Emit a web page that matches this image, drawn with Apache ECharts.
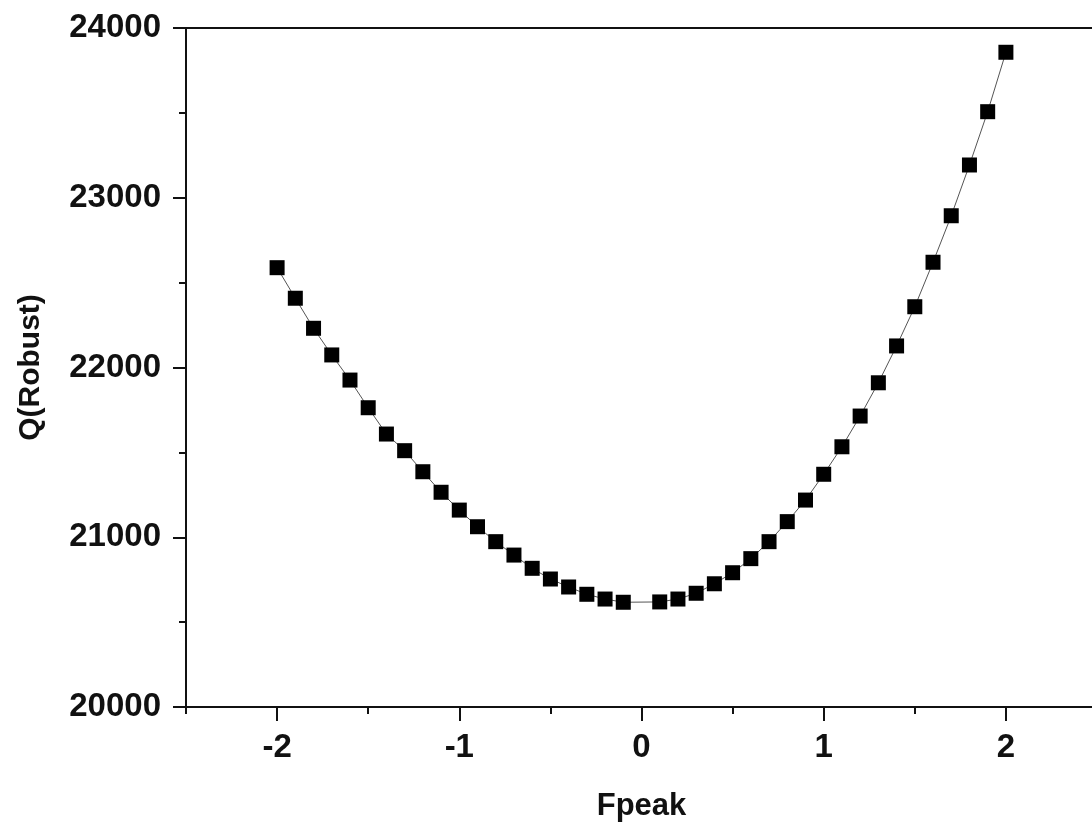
<!DOCTYPE html>
<html>
<head>
<meta charset="utf-8">
<script src="https://cdn.jsdelivr.net/npm/echarts@6/dist/echarts.min.js"></script>
<style>
  html, body { margin: 0; padding: 0; background: #fff; }
  #chart { width: 1092px; height: 827px; }
</style>
</head>
<body>
<div id="chart"></div>
<script>
// Fpeak values (no point at 0)
const fpeak = [
  -2.0, -1.9, -1.8, -1.7, -1.6, -1.5, -1.4, -1.3, -1.2, -1.1,
  -1.0, -0.9, -0.8, -0.7, -0.6, -0.5, -0.4, -0.3, -0.2, -0.1,
  0.1, 0.2, 0.3, 0.4, 0.5, 0.6, 0.7, 0.8, 0.9, 1.0,
  1.1, 1.2, 1.3, 1.4, 1.5, 1.6, 1.7, 1.8, 1.9, 2.0
]
const qRobust = [
  22588, 22408, 22231, 22074, 21926, 21763, 21608, 21510, 21386, 21265,
  21160, 21062, 20974, 20895, 20817, 20754, 20707, 20664, 20636, 20617,
  20619, 20636, 20670, 20726, 20791, 20874, 20974, 21092, 21219, 21371,
  21533, 21714, 21910, 22127, 22358, 22620, 22894, 23193, 23507, 23857
]
const xMajorTicks = [-2, -1, 0, 1, 2]

const chart = echarts.init(document.getElementById('chart'))
const font = "'Liberation Sans', Arial, sans-serif"

const option = {
  backgroundColor: '#fff',
  animation: false,
  grid: {
    left: 186,
    top: 28,
    width: 911,
    height: 679,
    outerBoundsMode: 'none',
    containLabel: false,
    show: true,
    borderColor: '#111',
    borderWidth: 2,
    backgroundColor: 'transparent'
  },
  xAxis: [
    {
      type: 'value',
      min: -2.5,
      max: 2.5,
      interval: 0.5,
      name: 'Fpeak',
      nameLocation: 'middle',
      nameGap: 84,
      nameTextStyle: { color: '#111', fontSize: 31, fontWeight: 'bold', fontFamily: font },
      axisLine: { onZero: false, lineStyle: { color: '#111', width: 2 } },
      axisTick: { length: 7, lineStyle: { color: '#111', width: 2 } },
      axisLabel: {
        color: '#111',
        fontSize: 33,
        fontWeight: 'bold',
        fontFamily: font,
        margin: 24,
        formatter: v => (Number.isInteger(v) ? String(v) : '')
      },
      splitLine: { show: false }
    },
    {
      type: 'value',
      position: 'bottom',
      min: -2.5,
      max: 2.5,
      interval: 0.5,
      axisLine: { show: false, onZero: false },
      axisTick: { show: true, length: 14, customValues: xMajorTicks, lineStyle: { color: '#111', width: 2 } },
      axisLabel: { show: false },
      splitLine: { show: false }
    }
  ],
  yAxis: {
    type: 'value',
    min: 20000,
    max: 24000,
    interval: 1000,
    name: 'Q(Robust)',
    nameLocation: 'middle',
    nameGap: 140,
    nameTextStyle: { color: '#111', fontSize: 30, fontWeight: 'bold', fontFamily: font },
    axisLine: { show: true, onZero: false, lineStyle: { color: '#111', width: 2 } },
    axisTick: { show: true, length: 13, lineStyle: { color: '#111', width: 2 } },
    minorTick: { show: true, splitNumber: 2, length: 7, lineStyle: { color: '#111', width: 2 } },
    axisLabel: {
      color: '#111',
      fontSize: 33,
      fontWeight: 'bold',
      fontFamily: font,
      margin: 25,
      formatter: v => String(v)
    },
    splitLine: { show: false }
  },
  series: [
    {
      type: 'line',
      xAxisIndex: 0,
      data: fpeak.map((x, i) => [x, qRobust[i]]),
      symbol: 'rect',
      symbolSize: 15,
      itemStyle: { color: '#000' },
      lineStyle: { color: '#555', width: 1 }
    }
  ]
}

chart.setOption(option)
</script>
</body>
</html>
